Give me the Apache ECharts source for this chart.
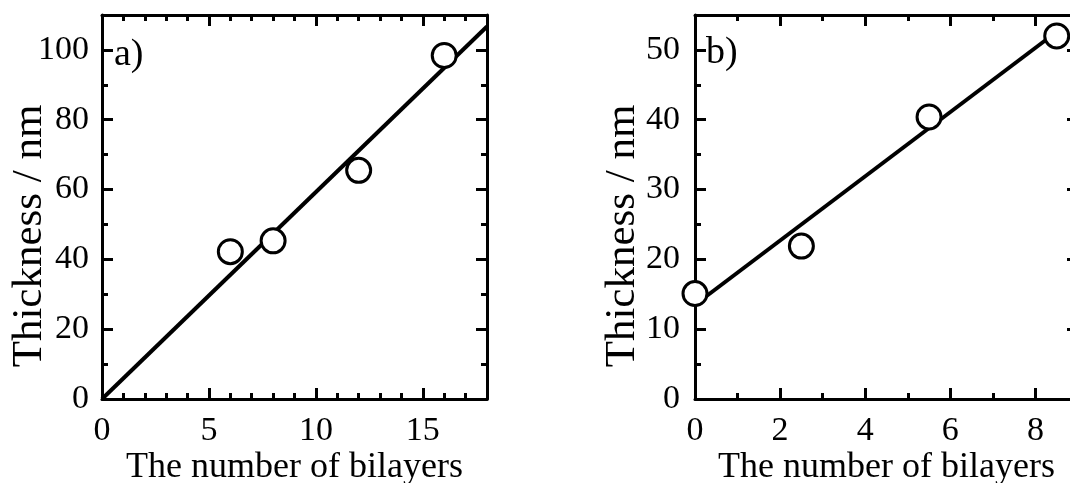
<!DOCTYPE html>
<html>
<head>
<meta charset="utf-8">
<script src="https://cdn.jsdelivr.net/npm/echarts@6/dist/echarts.min.js"></script>
<style>
  html, body { margin: 0; padding: 0; overflow: hidden; background: #fff; }
  #chart { width: 1120px; height: 483px; }
</style>
</head>
<body>
<div id="chart"></div>
<script>
// Panel a: film thickness versus number of bilayers
const bilayersA = [6, 8, 12, 16];
const thicknessA = [42.2, 45.3, 65.5, 98.4];
const fitAx = [0, 18];
const fitAy = [0, 106.7];
const xTicksA = [0, 5, 10, 15];
const yTicksA = [0, 20, 40, 60, 80, 100];

// Panel b
const bilayersB = [0, 2.5, 5.5, 8.5];
const thicknessB = [15.1, 21.9, 40.4, 52.0];
const fitBx = [0, 8.5];
const fitBy = [13.5, 52.6];
const xTicksB = [0, 2, 4, 6, 8];
const yTicksB = [0, 10, 20, 30, 40, 50];

const FONT = '"Liberation Serif", "Times New Roman", serif';
const BLACK = '#000';

const xAxes = [];
const yAxes = [];

// One side of a frame: a major axis (line, long ticks, optional labels) and
// a minor axis (short ticks only) sharing the same position.
function addSide(list, opts) {
  const major = {
    type: 'value',
    gridIndex: opts.grid,
    position: opts.pos,
    min: opts.min,
    max: opts.max,
    splitLine: { show: false },
    axisLine: { show: true, onZero: false, lineStyle: { color: BLACK, width: 3 } },
    axisTick: {
      show: true, inside: true, length: 11,
      customValues: opts.ticks,
      lineStyle: { color: BLACK, width: 3 }
    },
    axisLabel: {
      show: !!opts.labels,
      customValues: opts.ticks,
      margin: opts.margin,
      fontFamily: FONT, fontSize: 34, color: BLACK
    }
  };
  if (opts.name) {
    major.name = opts.name;
    major.nameLocation = 'middle';
    major.nameGap = opts.nameGap;
    major.nameMoveOverlap = false;
    major.nameTextStyle = Object.assign({ fontFamily: FONT, fontSize: opts.nameSize, color: BLACK }, opts.nameStyle || {});
  }
  list.push(major);
  const majorIndex = list.length - 1;
  list.push({
    type: 'value',
    gridIndex: opts.grid,
    position: opts.pos,
    min: opts.min,
    max: opts.max,
    interval: opts.minor,
    splitLine: { show: false },
    axisLine: { show: false, onZero: false },
    axisTick: { show: true, inside: true, length: 6, lineStyle: { color: BLACK, width: 3 } },
    axisLabel: { show: false }
  });
  return majorIndex;
}

// Panel a axes
const axA = addSide(xAxes, { grid: 0, pos: 'bottom', min: 0, max: 18, ticks: xTicksA, minor: 1, labels: true, margin: 15,
  name: 'The number of bilayers', nameGap: 51, nameSize: 36 });
addSide(xAxes, { grid: 0, pos: 'top', min: 0, max: 18, ticks: xTicksA, minor: 1 });
const ayA = addSide(yAxes, { grid: 0, pos: 'left', min: 0, max: 110, ticks: yTicksA, minor: 10, labels: true, margin: 13,
  name: 'Thickness / nm', nameGap: 51, nameSize: 43, nameStyle: { padding: [0, 58, 0, 0] } });
addSide(yAxes, { grid: 0, pos: 'right', min: 0, max: 110, ticks: yTicksA, minor: 10 });

// Panel b axes
const axB = addSide(xAxes, { grid: 1, pos: 'bottom', min: 0, max: 9, ticks: xTicksB, minor: 1, labels: true, margin: 15,
  name: 'The number of bilayers', nameGap: 51, nameSize: 36 });
addSide(xAxes, { grid: 1, pos: 'top', min: 0, max: 9, ticks: xTicksB, minor: 1 });
const ayB = addSide(yAxes, { grid: 1, pos: 'left', min: 0, max: 55, ticks: yTicksB, minor: 5, labels: true, margin: 15,
  name: 'Thickness / nm', nameGap: 51, nameSize: 43, nameStyle: { padding: [0, 58, 0, 0] } });
addSide(yAxes, { grid: 1, pos: 'right', min: 0, max: 55, ticks: yTicksB, minor: 5 });

function pairs(xs, ys) { return xs.map((x, i) => [x, ys[i]]); }

function fitLine(xi, yi, xs, ys) {
  return {
    type: 'line', xAxisIndex: xi, yAxisIndex: yi,
    data: pairs(xs, ys), symbol: 'none', clip: true, z: 2,
    lineStyle: { color: BLACK, width: 4 }, silent: true
  };
}
function points(xi, yi, xs, ys) {
  return {
    type: 'scatter', xAxisIndex: xi, yAxisIndex: yi,
    data: pairs(xs, ys), symbol: 'circle', symbolSize: 24, z: 3,
    itemStyle: { color: '#fff', borderColor: BLACK, borderWidth: 3, opacity: 1 }
  };
}

const chart = echarts.init(document.getElementById('chart'), null, { renderer: 'canvas' });
chart.setOption({
  animation: false,
  backgroundColor: '#fff',
  grid: [
    { left: 102, top: 15, width: 385, height: 384, outerBoundsMode: 'none', containLabel: false },
    { left: 695, top: 15, width: 383, height: 384, outerBoundsMode: 'none', containLabel: false }
  ],
  xAxis: xAxes,
  yAxis: yAxes,
  graphic: [
    { type: 'text', x: 114, y: 55, style: { text: 'a)', font: '38px ' + FONT, fill: BLACK, verticalAlign: 'middle' } },
    { type: 'text', x: 706, y: 53, style: { text: 'b)', font: '38px ' + FONT, fill: BLACK, verticalAlign: 'middle' } }
  ],
  series: [
    fitLine(axA, ayA, fitAx, fitAy),
    points(axA, ayA, bilayersA, thicknessA),
    fitLine(axB, ayB, fitBx, fitBy),
    points(axB, ayB, bilayersB, thicknessB)
  ]
});
</script>
</body>
</html>
